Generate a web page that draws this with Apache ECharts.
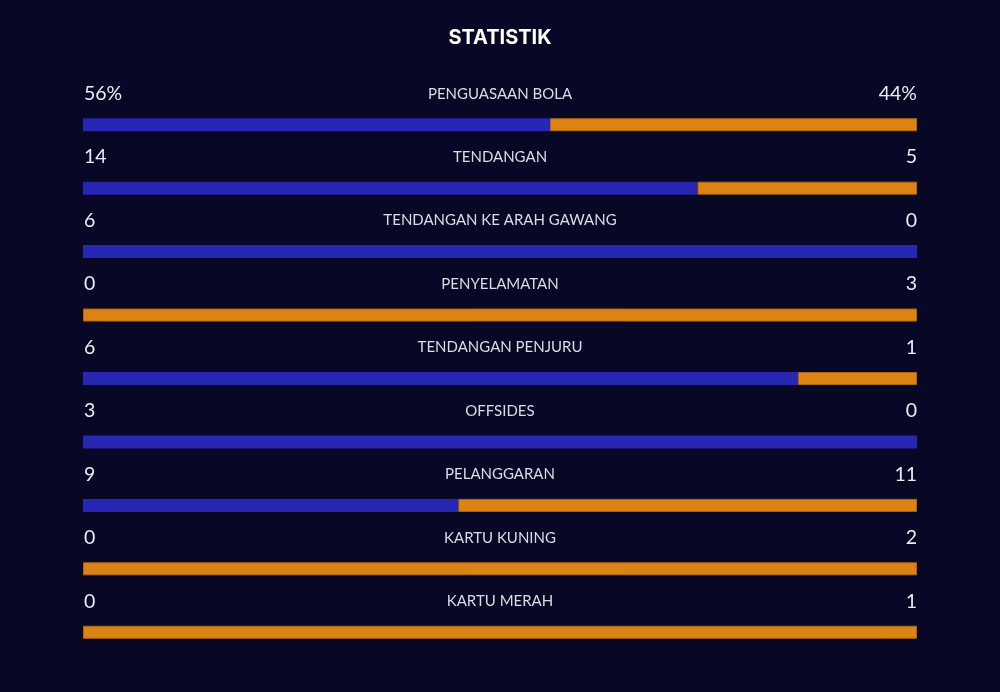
<!DOCTYPE html>
<html>
<head>
<meta charset="utf-8">
<script src="https://cdn.jsdelivr.net/npm/echarts@6/dist/echarts.min.js"></script>
<style>
  html, body { margin: 0; padding: 0; background: #080726; }
  #chart { width: 1000px; height: 692px; }
</style>
</head>
<body>
<div id="chart"></div>
<script>
const categories = ["PENGUASAAN BOLA", "TENDANGAN", "TENDANGAN KE ARAH GAWANG", "PENYELAMATAN", "TENDANGAN PENJURU", "OFFSIDES", "PELANGGARAN", "KARTU KUNING", "KARTU MERAH"];
const homeValues = [56, 14, 6, 0, 6, 3, 9, 0, 0];
const awayValues = [44, 5, 0, 3, 1, 0, 11, 2, 1];
const suffixes = ["%", "", "", "", "", "", "", "", ""];

const share = (a, b) => (a + b) === 0 ? 0.5 : a / (a + b);
// zero shares become null so no empty sliver is drawn
const homeShare = homeValues.map((v, i) => v === 0 ? null : share(v, awayValues[i]));
const awayShare = awayValues.map((v, i) => v === 0 ? null : share(v, homeValues[i]));

const chart = echarts.init(document.getElementById("chart"));
chart.setOption({
  backgroundColor: "#080726",
  animation: false,
  title: {
    text: "STATISTIK",
    left: "center",
    top: 23,
    textStyle: { color: "#ffffff", fontFamily: "Inter", fontWeight: 700, fontSize: 20 }
  },
  grid: { left: 83, right: 83, top: 93, bottom: 28 },
  xAxis: { type: "value", min: 0, max: 1, show: false },
  yAxis: { type: "category", data: categories, inverse: true, show: false },
  series: [
    {
      type: "bar", stack: "s", data: homeShare, barWidth: 13,
      itemStyle: { color: "#2727b4" }
    },
    {
      type: "bar", stack: "s", data: awayShare, barWidth: 13,
      itemStyle: { color: "#dc8413", borderColor: "#b3660f", borderWidth: 1 }
    },
    {
      type: "custom",
      data: categories.map((c, i) => [0, i]),
      encode: { x: 0, y: 1 },
      z: 10,
      renderItem: (params, api) => {
        const i = api.value(1);
        const left = api.coord([0, i]);
        const right = api.coord([1, i]);
        const y = left[1] - 32;
        const cx = (left[0] + right[0]) / 2;
        return {
          type: "group",
          children: [
            { type: "text", style: { text: homeValues[i] + suffixes[i], x: left[0] + 1, y: y + 1, textAlign: "left", textVerticalAlign: "middle", fill: "#ececf2", font: "19.5px Lato" } },
            { type: "text", style: { text: categories[i], x: cx, y: y + 1, textAlign: "center", textVerticalAlign: "middle", fill: "#dcdce4", font: "15px Lato" } },
            { type: "text", style: { text: awayValues[i] + suffixes[i], x: right[0], y: y + 1, textAlign: "right", textVerticalAlign: "middle", fill: "#ececf2", font: "19.5px Lato" } }
          ]
        };
      }
    }
  ]
});
</script>
</body>
</html>
